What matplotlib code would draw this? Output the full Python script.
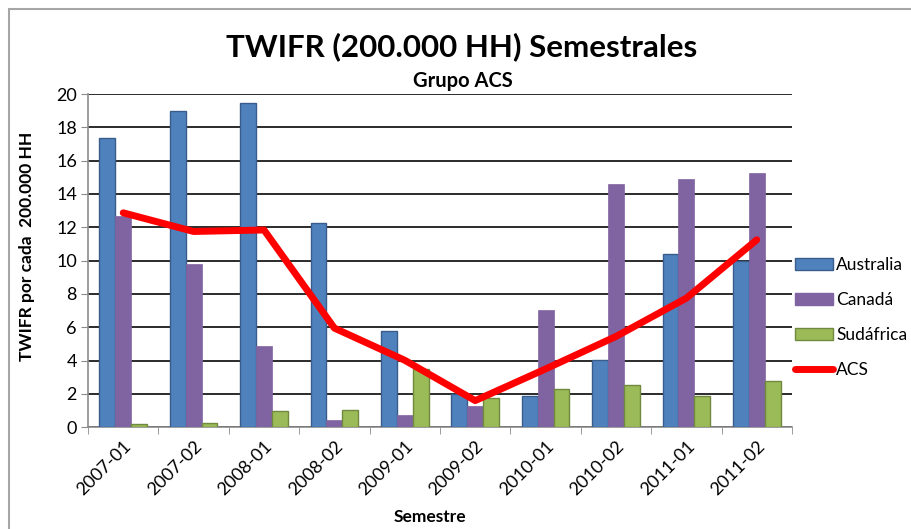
import numpy as np
import matplotlib.pyplot as plt
from matplotlib.lines import Line2D
from matplotlib.patches import Patch, Rectangle

plt.rcParams['font.family'] = ['Lato', 'DejaVu Sans']

semestres = ['2007-01', '2007-02', '2008-01', '2008-02', '2009-01',
             '2009-02', '2010-01', '2010-02', '2011-01', '2011-02']
australia = [17.35, 18.95, 19.45, 12.27, 5.80, 2.00, 1.85, 4.05, 10.37, 10.00]
canada = [12.65, 9.78, 4.85, 0.45, 0.72, 1.28, 7.05, 14.58, 14.92, 15.28]
sudafrica = [0.18, 0.28, 0.96, 1.05, 3.52, 1.75, 2.27, 2.55, 1.85, 2.80]
acs = [12.87, 11.75, 11.84, 5.95, 4.02, 1.60, 3.50, 5.45, 7.75, 11.25]

fig = plt.figure(figsize=(9.12, 5.29), dpi=100)
ax = fig.add_axes([0.0965, 0.1923, 0.7719, 0.630])

# outer chart border
fig.patches.append(Rectangle((9 / 912, -0.05), 1.0, 1 - 9 / 529 + 0.05,
                             transform=fig.transFigure, fill=False,
                             edgecolor='#a6a6a6', linewidth=1.5))

x = np.arange(len(semestres))
w = 0.225
ax.bar(x - w, australia, w, color='#4F81BD', edgecolor='#385D8A', linewidth=1, zorder=3)
ax.bar(x, canada, w, color='#8064A2', edgecolor='#8064A2', linewidth=0.5, zorder=3)
ax.bar(x + w, sudafrica, w, color='#9BBB59', edgecolor='#71893F', linewidth=1, zorder=3)
ax.plot(x, acs, color='#FF0000', linewidth=5, solid_capstyle='round',
        solid_joinstyle='round', zorder=4)

ax.set_xlim(-0.5, len(semestres) - 0.5)
ax.set_ylim(0, 20)
ax.set_yticks(np.arange(0, 21, 2))
ax.yaxis.grid(True, color='#1a1a1a', linewidth=1.3, zorder=0)
ax.set_axisbelow(True)

ax.set_xticks(x)
ax.set_xticklabels(semestres, rotation=45, ha='right', rotation_mode='anchor', fontsize=13)
ax.set_xticks(np.arange(-0.5, len(semestres)), minor=True)
ax.tick_params(axis='x', which='major', length=0, pad=8)
ax.tick_params(axis='x', which='minor', length=5, color='#8c8c8c')
ax.tick_params(axis='y', length=5, color='#8c8c8c', labelsize=13, pad=3)

for s in ['top', 'right']:
    ax.spines[s].set_visible(False)
for s in ['left', 'bottom']:
    ax.spines[s].set_color('#8c8c8c')
    ax.spines[s].set_linewidth(1.2)

ax.set_ylabel('TWIFR por cada  200.000 HH', fontsize=12.5, fontweight='bold')
ax.yaxis.set_label_coords(-0.075, 0.543)
ax.set_xlabel('Semestre', fontsize=12.5, fontweight='bold')
ax.xaxis.set_label_coords(0.486, -0.245)

fig.text(0.506, 0.911, 'TWIFR (200.000 HH) Semestrales', ha='center', va='center',
         fontsize=22.5, fontweight='bold')
fig.text(0.508, 0.846, 'Grupo ACS', ha='center', va='center',
         fontsize=14.5, fontweight='bold')

handles = [Patch(facecolor='#4F81BD', edgecolor='#385D8A'),
           Patch(facecolor='#8064A2', edgecolor='#8064A2'),
           Patch(facecolor='#9BBB59', edgecolor='#71893F'),
           Line2D([0], [0], color='#FF0000', linewidth=5, solid_capstyle='round')]
fig.legend(handles, ['Australia', 'Canadá', 'Sudáfrica', 'ACS'],
           loc='center left', bbox_to_anchor=(0.872, 0.40), frameon=False,
           fontsize=12.5, handlelength=2.2, handleheight=0.7, handletextpad=0.15,
           labelspacing=1.1, borderpad=0, borderaxespad=0)

fig.savefig('out.png', dpi=100)
